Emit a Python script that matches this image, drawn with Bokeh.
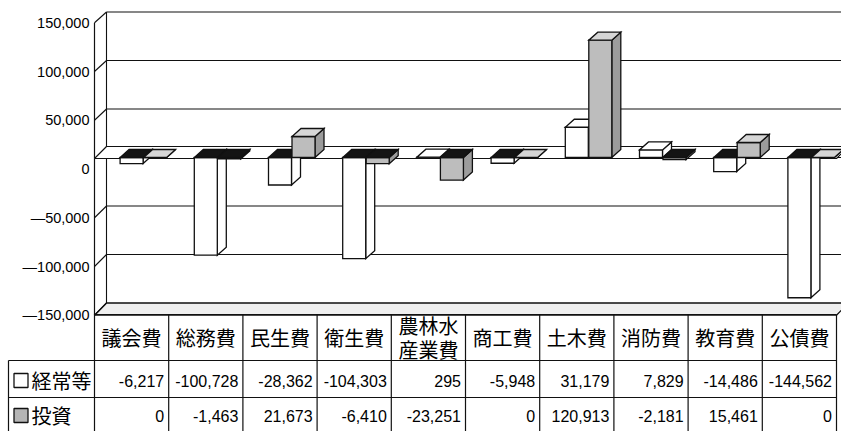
from bokeh.plotting import figure
from bokeh.models import Range1d, ColumnDataSource
from bokeh.embed import file_html
from bokeh.resources import INLINE
from bokeh.core.properties import value

# ---------------- data ----------------
categories = ["議会費", "総務費", "民生費", "衛生費", "農林水\n産業費",
              "商工費", "土木費", "消防費", "教育費", "公債費"]
series_names = ["経常等", "投資"]
keijo = [-6217, -100728, -28362, -104303, 295, -5948, 31179, 7829, -14486, -144562]
toshi = [0, -1463, 21673, -6410, -23251, 0, 120913, -2181, 15461, 0]
y_ticks = [-150000, -100000, -50000, 0, 50000, 100000, 150000]

# ---------------- layout constants (pixels) ----------------
W, H = 841, 431
TABLE_TOP = 314        # pixel row where the data table starts
LEFT = 94              # pixel column of the front wall / first table column
CAT_W = 74.2           # pixel width of one category
ZERO_PX = 157          # pixel row of value 0 on the bar/back plane
SCALE = 0.00097        # px per unit on the bar/back plane
F_ZERO_PX = 168.5      # pixel row of value 0 on the front wall (tick labels)
F_SCALE = 0.000975
N = len(categories)

MAIN = Range1d(-(H - ZERO_PX) / SCALE, ZERO_PX / SCALE)
FRONT = Range1d(-(H - F_ZERO_PX) / F_SCALE, F_ZERO_PX / F_SCALE)
TABLE = Range1d(H - TABLE_TOP, -TABLE_TOP)   # table units: pixels below table top


def ux(px):
    return px / CAT_W


def uy(px):
    return px / SCALE


def front_to_main(t):
    frac = (t - FRONT.start) / (FRONT.end - FRONT.start)
    return MAIN.start + frac * (MAIN.end - MAIN.start)


WDX = ux(12)           # wall depth
BAR_DX = ux(9)
BAR_DY = uy(8)
LINE = "#111111"

p = figure(width=W, height=H,
           x_range=Range1d(-LEFT / CAT_W, (W - LEFT) / CAT_W),
           y_range=MAIN,
           output_backend="svg", toolbar_location=None,
           x_axis_location=None, y_axis_location=None,
           min_border=0)
p.extra_y_ranges = {"front": FRONT, "table": TABLE}
p.grid.visible = False
p.outline_line_color = None
p.background_fill_color = "white"
p.border_fill_color = "white"

# ---------------- y tick labels on the front wall ----------------
tick_text = [("\u2014" if t < 0 else "") + f"{abs(t):,}" for t in y_ticks]
p.text(x=[ux(89 - LEFT)] * len(y_ticks), y=y_ticks, text=tick_text,
       y_range_name="front", text_font=value("Liberation Sans"),
       text_font_size="14.5px", text_align="right", text_baseline="middle",
       text_color="black")

# ---------------- 3D frame ----------------
x_end = N
f_front = front_to_main(min(y_ticks))
f_back = min(y_ticks)
# floor
p.patch([0, x_end, x_end + WDX, WDX], [f_front, f_front, f_back, f_back],
        fill_color="#efefef", line_color=LINE, line_width=1.2)
# back wall gridlines
p.segment(x0=[WDX] * len(y_ticks), y0=y_ticks, x1=[x_end + WDX] * len(y_ticks), y1=y_ticks,
          line_color=LINE, line_width=1.1)
# back and front vertical edges
p.segment(x0=[WDX], y0=[max(y_ticks)], x1=[WDX], y1=[min(y_ticks)], line_color=LINE, line_width=1.1)
p.segment(x0=[0], y0=[front_to_main(max(y_ticks))], x1=[0], y1=[front_to_main(min(y_ticks))],
          line_color=LINE, line_width=1.2)
# side-wall slanted ticks
st = [t for t in y_ticks if t != 0]
p.segment(x0=[0] * len(st), y0=[front_to_main(t) for t in st],
          x1=[WDX] * len(st), y1=st, line_color=LINE, line_width=1.1)
# zero plane
zf = -uy(1)
zb = uy(11)
p.patch([0, x_end, x_end + WDX, WDX], [zf, zf, zb, zb],
        fill_color="white", line_color=LINE, line_width=1.2)

# ---------------- bars ----------------
styles = [
    dict(front="white", side="white", top="white"),
    dict(front="#bdbdbd", side="#9c9c9c", top="#d6d6d6"),
]
offsets = [(-11.5, 11.5), (12.0, 35.0)]
xs, ys, fills = [], [], []
for i in range(N):
    c = i + 0.5
    for s, vals in enumerate([keijo, toshi]):
        v = vals[i]
        x0 = c + ux(offsets[s][0])
        x1 = c + ux(offsets[s][1])
        sty = styles[s]
        xs.append([x1, x1 + BAR_DX, x1 + BAR_DX, x1])
        ys.append([0, BAR_DY, v + BAR_DY, v])
        fills.append(sty["side"])
        xs.append([x0, x1, x1, x0])
        ys.append([0, 0, v, v])
        fills.append(sty["front"])
        ty = max(v, 0)
        xs.append([x0, x1, x1 + BAR_DX, x0 + BAR_DX])
        ys.append([ty, ty, ty + BAR_DY, ty + BAR_DY])
        fills.append(sty["top"] if v >= 0 else "#141414")

bars = ColumnDataSource(dict(xs=xs, ys=ys, fill=fills))
p.patches(xs="xs", ys="ys", fill_color="fill", line_color=LINE, line_width=1.3,
          line_join="miter", source=bars)

# ---------------- data table ----------------
row_tops = [0, 46, 83]
row_mid = [23, 66, 101]
label_left = ux(8 - LEFT)
bottom = H - TABLE_TOP

p.segment(x0=[0, label_left, label_left], y0=row_tops,
          x1=[N, N, N], y1=row_tops, y_range_name="table",
          line_color=LINE, line_width=1.2)
vx = list(range(N + 1))
p.segment(x0=vx, y0=[0] * len(vx), x1=vx, y1=[bottom] * len(vx), y_range_name="table",
          line_color=LINE, line_width=1.2)
p.segment(x0=[label_left], y0=[row_tops[1]], x1=[label_left], y1=[bottom], y_range_name="table",
          line_color=LINE, line_width=1.2)

p.text(x=[i + 0.5 for i in range(N)], y=[row_mid[0]] * N, text=categories,
       y_range_name="table", text_font=value("Noto Sans CJK JP"), text_font_size="20px",
       text_align="center", text_baseline="middle", text_line_height=0.8,
       text_color="black")

key_fill = ["white", "#b5b5b5"]
for r, (name, vals) in enumerate(zip(series_names, [keijo, toshi])):
    ym = row_mid[r + 1]
    p.rect(x=[ux(20.5 - LEFT)], y=[ym], width=ux(14), height=14, y_range_name="table",
           fill_color=key_fill[r], line_color=LINE, line_width=1.3)
    p.text(x=[ux(31 - LEFT)], y=[ym], text=[name], y_range_name="table",
           text_font=value("Noto Sans CJK JP"), text_font_size="20px",
           text_align="left", text_baseline="middle", text_color="black")
    p.text(x=[i + 1 - ux(4.5) for i in range(N)], y=[ym] * N,
           text=[f"{v:,}" for v in vals], y_range_name="table",
           text_font=value("Liberation Sans"), text_font_size="16px",
           text_align="right", text_baseline="middle", text_color="black")

open("out.html", "w").write(file_html(p, INLINE))
